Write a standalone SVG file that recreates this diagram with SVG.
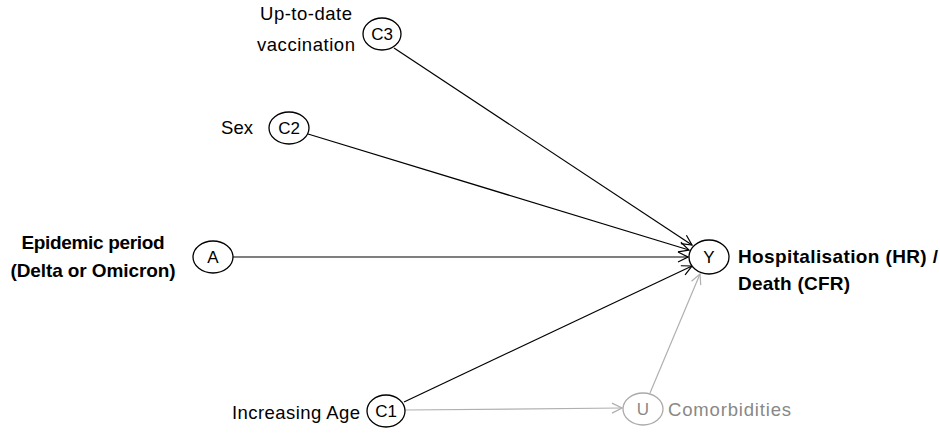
<svg xmlns="http://www.w3.org/2000/svg" width="940" height="434" viewBox="0 0 940 434">
<style>
.n{fill:#fff;stroke:#000;stroke-width:1.3}
.g{fill:#fff;stroke:#aaa;stroke-width:1.3}
.t{font-family:"Liberation Sans",Arial,sans-serif;font-size:17px;fill:#000}
.l{font-family:"Liberation Sans",Arial,sans-serif;font-size:18.5px;fill:#000}
.b{font-family:"Liberation Sans",Arial,sans-serif;font-size:19px;font-weight:bold;fill:#000}
.gt{font-family:"Liberation Sans",Arial,sans-serif;font-size:17px;fill:#888}
.gl{font-family:"Liberation Sans",Arial,sans-serif;font-size:18.5px;fill:#888}
.e{stroke:#000;stroke-width:1.2;fill:none;marker-end:url(#ah)}
.ge{stroke:#b0b0b0;stroke-width:1.2;fill:none;marker-end:url(#gh)}
</style>
<defs>
<marker id="ah" viewBox="0 0 12 12" refX="11" refY="6" markerWidth="12" markerHeight="12" markerUnits="userSpaceOnUse" orient="auto"><path d="M1,1 L11,6 L1,11" fill="none" stroke="#000" stroke-width="1.2"/></marker>
<marker id="gh" viewBox="0 0 12 12" refX="11" refY="6" markerWidth="12" markerHeight="12" markerUnits="userSpaceOnUse" orient="auto"><path d="M1,1 L11,6 L1,11" fill="none" stroke="#b0b0b0" stroke-width="1.2"/></marker>
</defs>
<g id="connectors">
<line class="e" x1="394" y1="48" x2="692" y2="245"/>
<line class="e" x1="308" y1="134" x2="689" y2="250"/>
<line class="e" x1="233" y1="257" x2="688" y2="257"/>
<line class="e" x1="404" y1="402" x2="692" y2="266"/>
<line class="ge" x1="405" y1="410" x2="622" y2="408"/>
<line class="ge" x1="650" y1="393" x2="700" y2="274"/>
</g>
<g id="C3"><ellipse class="n" cx="382" cy="34" rx="19" ry="16"/><text class="t" x="382" y="40" text-anchor="middle">C3</text>
<text class="l" x="306" y="20" text-anchor="middle" textLength="92">Up-to-date</text><text class="l" x="306" y="51" text-anchor="middle" textLength="98">vaccination</text></g>
<g id="C2"><ellipse class="n" cx="289" cy="128" rx="20" ry="16"/><text class="t" x="289" y="134" text-anchor="middle">C2</text>
<text class="l" x="237" y="134" text-anchor="middle">Sex</text></g>
<g id="A"><ellipse class="n" cx="213" cy="257" rx="20" ry="16"/><text class="t" x="213" y="263" text-anchor="middle">A</text>
<text class="b" x="93" y="249" text-anchor="middle" textLength="143">Epidemic period</text><text class="b" x="93" y="277" text-anchor="middle" textLength="165">(Delta or Omicron)</text></g>
<g id="Y"><ellipse class="n" cx="709" cy="257" rx="20" ry="17"/><text class="t" x="709" y="263" text-anchor="middle">Y</text>
<text class="b" x="738" y="263" textLength="200">Hospitalisation (HR) /</text><text class="b" x="738" y="290" textLength="112">Death (CFR)</text></g>
<g id="C1"><ellipse class="n" cx="386" cy="411" rx="19" ry="16"/><text class="t" x="386" y="417" text-anchor="middle">C1</text>
<text class="l" x="360" y="419" text-anchor="end" textLength="128">Increasing Age</text></g>
<g id="U"><ellipse class="g" cx="643" cy="409" rx="20" ry="16"/><text class="gt" x="643" y="415" text-anchor="middle">U</text>
<text class="gl" x="668" y="416" textLength="123">Comorbidities</text></g>
</svg>
